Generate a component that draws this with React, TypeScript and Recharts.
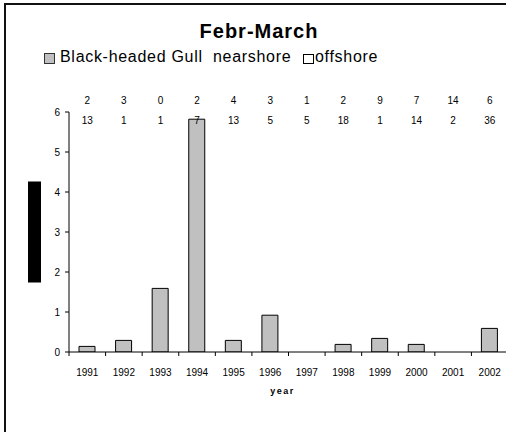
import React from 'react';
import { BarChart, Bar, XAxis, YAxis, Legend } from 'recharts';

const years = ['1991', '1992', '1993', '1994', '1995', '1996', '1997', '1998', '1999', '2000', '2001', '2002'];
const nearshore = [0.14, 0.29, 1.59, 5.82, 0.29, 0.92, 0, 0.19, 0.34, 0.19, 0, 0.59];
const offshore = [0, 0, 0, 0, 0, 0, 0, 0, 0, 0, 0, 0];
const countsTop = [2, 3, 0, 2, 4, 3, 1, 2, 9, 7, 14, 6];
const countsBottom = [13, 1, 1, 7, 13, 5, 5, 18, 1, 14, 2, 36];
const yTicks = [0, 1, 2, 3, 4, 5, 6];

const data = years.map((year, i) => ({
  year,
  nearshore: nearshore[i],
  offshore: offshore[i],
}));

const FONT = '"Liberation Sans", Arial, sans-serif';

// bottom ticks: Excel puts the tick marks between categories
const YearTick = (props: any) => {
  const { x, y, payload } = props;
  const half = payload && payload.offset ? payload.offset : 18.3;
  return (
    <g>
      <line x1={x - half} x2={x - half} y1={y} y2={y + 4} stroke="#000" />
      <text x={x} y={y + 24} textAnchor="middle" fontSize={10} fontFamily={FONT} fill="#000">
        {payload.value}
      </text>
    </g>
  );
};

// the two rows of sample counts above the plot
const CountTick = (props: any) => {
  const { x, y, payload, index } = props;
  const i = payload && typeof payload.index === 'number' ? payload.index : index;
  return (
    <g fontSize={10} fontFamily={FONT} fill="#000">
      <text x={x} y={y - 8.5} textAnchor="middle">{countsTop[i]}</text>
      <text x={x} y={y + 12} textAnchor="middle">{countsBottom[i]}</text>
    </g>
  );
};

const YLabelBox = (props: any) => {
  const vb = props.viewBox || { x: 0, y: 112, width: 69, height: 240 };
  return <rect x={vb.x + 28} y={vb.y + vb.height / 2 - 50.5} width={13} height={101} fill="#000" />;
};

const YearLabel = (props: any) => {
  const vb = props.viewBox || { x: 69, y: 352, width: 439, height: 30 };
  return (
    <text
      x={vb.x + vb.width / 2 - 6}
      y={vb.y + 42}
      textAnchor="middle"
      fontSize={9}
      fontWeight="bold"
      letterSpacing={1.5}
      fontFamily={FONT}
      fill="#000"
    >
      year
    </text>
  );
};

const LegendBox = () => (
  <div style={{ position: 'relative', height: 20, fontFamily: FONT, fontSize: 16, lineHeight: '16px', letterSpacing: 0.7 }}>
    <span style={{ position: 'absolute', left: 1, top: 4, width: 9, height: 9, background: '#c0c0c0', border: '1px solid #333' }} />
    <span style={{ position: 'absolute', left: 17, top: 0, whiteSpace: 'nowrap' }}>Black-headed Gull&nbsp; nearshore</span>
    <span style={{ position: 'absolute', left: 260, top: 5, width: 9, height: 8, background: '#fff', border: '1px solid #000' }} />
    <span style={{ position: 'absolute', left: 272, top: 0, whiteSpace: 'nowrap' }}>offshore</span>
  </div>
);

export default function App() {
  return (
    <div style={{ position: 'absolute', left: 0, top: 0, width: 506, height: 432, background: '#fff', overflow: 'hidden' }}>
      <div style={{ position: 'absolute', left: 4, top: 3, width: 502, height: 429, borderTop: '2px solid #111', borderLeft: '2px solid #111' }} />
      <div
        style={{
          position: 'absolute',
          left: 159,
          top: 21,
          width: 200,
          textAlign: 'center',
          fontFamily: FONT,
          fontWeight: 'bold',
          fontSize: 20,
          lineHeight: '20px',
          letterSpacing: 1,
        }}
      >
        Febr-March
      </div>
      <div style={{ position: 'absolute', left: 0, top: 0 }}>
        <BarChart width={508} height={432} data={data} margin={{ top: 82, right: 0, bottom: 50, left: 0 }}>
          <XAxis
            xAxisId="top"
            orientation="top"
            dataKey="year"
            height={30}
            axisLine={false}
            tickLine={false}
            tickSize={0}
            tickMargin={0}
            interval={0}
            tick={<CountTick />}
          />
          <XAxis
            dataKey="year"
            height={30}
            axisLine={{ stroke: '#000' }}
            tickLine={false}
            tickSize={0}
            tickMargin={0}
            interval={0}
            tick={<YearTick />}
            label={<YearLabel />}
          />
          <YAxis
            width={69}
            domain={[0, 6]}
            ticks={yTicks}
            allowDataOverflow
            axisLine={{ stroke: '#000' }}
            tickLine={{ stroke: '#000' }}
            tickSize={4}
            tickMargin={5}
            tick={{ fontSize: 10, fontFamily: FONT, fill: '#000' }}
            label={<YLabelBox />}
          />
          <Legend
            layout="horizontal"
            verticalAlign="middle"
            align="center"
            wrapperStyle={{ top: 48.5, left: 43, width: 420 }}
            content={<LegendBox />}
          />
          <Bar dataKey="nearshore" stackId="a" fill="#c0c0c0" stroke="#000" strokeWidth={1} barSize={16} isAnimationActive={false} />
          <Bar dataKey="offshore" stackId="a" fill="#fff" stroke="#000" strokeWidth={1} barSize={16} isAnimationActive={false} />
        </BarChart>
      </div>
    </div>
  );
}
